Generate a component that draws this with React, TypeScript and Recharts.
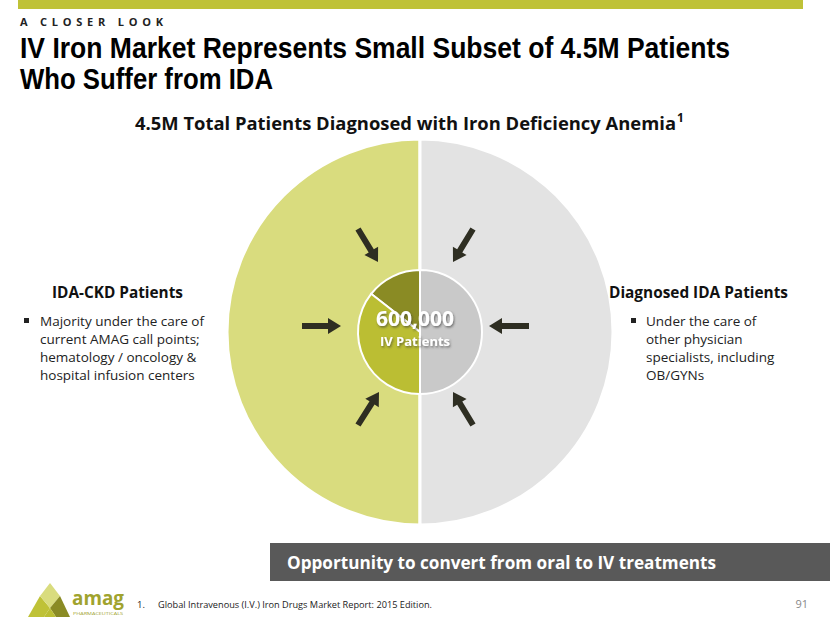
import { PieChart, Pie, Cell } from "recharts";

// outer ring: the 4.5M diagnosed IDA patients, split in two halves
const populationNames = ["IDA-CKD Patients", "Diagnosed IDA Patients"];
const populationShare = [50, 50];
const populationColors = ["#D9DC7E", "#E3E3E3"];

// inner circle: the 600,000 IV patients
const ivNames = ["IV (other CKD)", "IV IDA-CKD", "IV Diagnosed IDA"];
const ivShare = [52, 128, 180];
const ivColors = ["#8A8B24", "#BBBE33", "#C9C9C9"];

const leftBullets = [
  "Majority under the care of",
  "current AMAG call points;",
  "hematology / oncology &",
  "hospital infusion centers",
];
const rightBullets = ["Under the care of", "other physician", "specialists, including", "OB/GYNs"];

const outerData = populationNames.map((name, i) => ({ name, value: populationShare[i] }));
const innerData = ivNames.map((name, i) => ({ name, value: ivShare[i] }));

const CX = 415;
const CY = 327;

const FONT = "'Open Sans', 'Noto Sans', sans-serif";
const NARROW = "'Liberation Sans Narrow', 'Liberation Sans', sans-serif";

// simple block arrow from tail to tip
const Arrow = ({ x1, y1, x2, y2 }: { x1: number; y1: number; x2: number; y2: number }) => {
  const dx = x2 - x1;
  const dy = y2 - y1;
  const len = Math.sqrt(dx * dx + dy * dy);
  const ang = (Math.atan2(dy, dx) * 180) / Math.PI;
  const head = 13;
  const hw = 8;
  const sw = 3;
  const d = `M0,${-sw} L${len - head},${-sw} L${len - head},${-hw} L${len},0 L${len - head},${hw} L${len - head},${sw} L0,${sw} Z`;
  return <path d={d} fill="#2E2E22" transform={`translate(${x1},${y1}) rotate(${ang})`} />;
};

const App = () => {
  return (
    <div style={{ position: "absolute", left: 0, top: 0, width: 830, height: 623, background: "#fff" }}>
      <div style={{ position: "absolute", left: 0, top: 0 }}>
        <PieChart width={830} height={623}>
          <Pie
            data={outerData}
            dataKey="value"
            cx={CX}
            cy={CY}
            outerRadius={193}
            startAngle={90}
            endAngle={450}
            stroke="#fff"
            strokeWidth={3}
            isAnimationActive={false}
          >
            {outerData.map((d, i) => (
              <Cell key={d.name} fill={populationColors[i]} />
            ))}
          </Pie>
          <Pie
            data={innerData}
            dataKey="value"
            cx={CX}
            cy={CY}
            outerRadius={62}
            startAngle={90}
            endAngle={450}
            stroke="#fff"
            strokeWidth={2}
            isAnimationActive={false}
          >
            {innerData.map((d, i) => (
              <Cell key={d.name} fill={ivColors[i]} />
            ))}
          </Pie>
        </PieChart>
      </div>
      <svg width={830} height={623} style={{ position: "absolute", left: 0, top: 0, pointerEvents: "none" }}>
        <defs>
          <filter id="sh" x="-20%" y="-40%" width="140%" height="180%">
            <feDropShadow dx="1" dy="1.5" stdDeviation="1.2" floodColor="#333" floodOpacity="0.6" />
          </filter>
        </defs>
        <rect x={18} y={0} width={785} height={9} fill="#BFC237" />
        <text x={20} y={26} fontFamily={FONT} fontWeight={700} fontSize={11} fill="#222" textLength={143} lengthAdjust="spacing">
          A CLOSER LOOK
        </text>
        <text x={20} y={58} fontFamily={NARROW} fontWeight={700} fontSize={30} fill="#000" textLength={710} lengthAdjust="spacingAndGlyphs">
          IV Iron Market Represents Small Subset of 4.5M Patients
        </text>
        <text x={20} y={89} fontFamily={NARROW} fontWeight={700} fontSize={30} fill="#000" textLength={253} lengthAdjust="spacingAndGlyphs">
          Who Suffer from IDA
        </text>
        <text x={135} y={130} fontFamily={FONT} fontWeight={700} fontSize={18} fill="#111" textLength={541} lengthAdjust="spacingAndGlyphs">
          4.5M Total Patients Diagnosed with Iron Deficiency Anemia
        </text>
        <text x={677} y={122} fontFamily={FONT} fontWeight={700} fontSize={12} fill="#111">
          1
        </text>

        <text x={52} y={298} fontFamily={FONT} fontWeight={700} fontSize={16} fill="#111" textLength={131} lengthAdjust="spacingAndGlyphs">
          {populationNames[0]}
        </text>
        <rect x={24} y={318} width={5} height={5} fill="#222" />
        {leftBullets.map((t, i) => (
          <text key={t} x={40} y={326 + i * 18} fontFamily={FONT} fontSize={13.5} fill="#222">
            {t}
          </text>
        ))}

        <text x={609} y={298} fontFamily={FONT} fontWeight={700} fontSize={16} fill="#111" textLength={179} lengthAdjust="spacingAndGlyphs">
          {populationNames[1]}
        </text>
        <rect x={631} y={318} width={5} height={5} fill="#222" />
        {rightBullets.map((t, i) => (
          <text key={t} x={646} y={326 + i * 18} fontFamily={FONT} fontSize={13.5} fill="#222">
            {t}
          </text>
        ))}

        <Arrow x1={358} y1={229} x2={378} y2={262} />
        <Arrow x1={473} y1={229} x2={453} y2={262} />
        <Arrow x1={302} y1={326} x2={341} y2={326} />
        <Arrow x1={529} y1={326} x2={489} y2={326} />
        <Arrow x1={358} y1={425} x2={379} y2={392} />
        <Arrow x1={473} y1={425} x2={453} y2={392} />

        <g filter="url(#sh)">
          <text x={CX} y={326} textAnchor="middle" fontFamily={FONT} fontWeight={700} fontSize={21} fill="#fff">
            600,000
          </text>
          <text x={CX} y={346} textAnchor="middle" fontFamily={FONT} fontWeight={700} fontSize={13} fill="#fff">
            IV Patients
          </text>
        </g>

        <rect x={270} y={543} width={560} height={38} fill="#595959" />
        <text x={287} y={569} fontFamily={FONT} fontWeight={700} fontSize={18} fill="#fff" textLength={429} lengthAdjust="spacingAndGlyphs">
          Opportunity to convert from oral to IV treatments
        </text>

        {/* logo */}
        <polygon points="28,617 40,596 50,608 44,617" fill="#BFC237" />
        <polygon points="40,596 50,583 60,596 50,608" fill="#D9DC7E" />
        <polygon points="50,608 60,596 70,617 56,617" fill="#8A8B24" />
        <polygon points="44,617 50,608 56,617" fill="#BBBE33" />
        <text x={72} y={605} fontFamily={FONT} fontWeight={700} fontSize={20} fill="#A0A32E" textLength={52} lengthAdjust="spacingAndGlyphs">
          amag
        </text>
        <text x={73} y={615} fontFamily={FONT} fontSize={4} fill="#A0A32E" textLength={50} lengthAdjust="spacingAndGlyphs">
          PHARMACEUTICALS
        </text>

        <text x={137} y={608} fontFamily={FONT} fontSize={9.5} fill="#222">
          1.
        </text>
        <text x={158} y={608} fontFamily={FONT} fontSize={9.5} fill="#222" textLength={274} lengthAdjust="spacingAndGlyphs">
          Global Intravenous (I.V.) Iron Drugs Market Report: 2015 Edition.
        </text>
        <text x={808} y={608} textAnchor="end" fontFamily={FONT} fontSize={11} fill="#888">
          91
        </text>
      </svg>
    </div>
  );
};

export default App;
